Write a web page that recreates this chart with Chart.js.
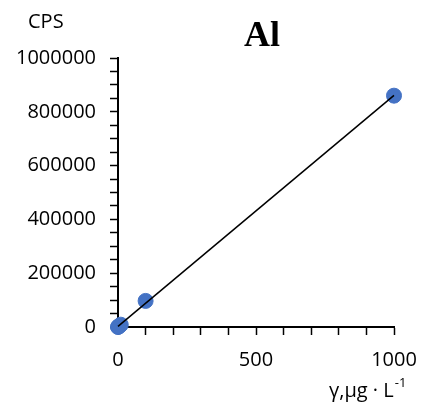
<!DOCTYPE html>
<html>
<head>
<meta charset="utf-8">
<script src="https://cdn.jsdelivr.net/npm/chart.js@4"></script>
<style>
  body { margin: 0; background: #fff; }
  #wrap { width: 425px; height: 410px; }
</style>
</head>
<body>
<div id="wrap"><canvas id="al"></canvas></div>
<script>
// concentration (µg/L) and counts per second
var conc = [0, 1, 5, 10, 100, 1000];
var cps = [0, 900, 4300, 8600, 97000, 860000];
var chartTitle = 'Al';
var yLabel = 'CPS';
var xLabel = 'γ,μg · L';
var xLabelSup = '-1';

// least squares line through the calibration points
function fitLine(xs, ys) {
  var n = xs.length, sx = 0, sy = 0, sxy = 0, sxx = 0;
  for (var i = 0; i < n; i++) {
    sx += xs[i]; sy += ys[i]; sxy += xs[i] * ys[i]; sxx += xs[i] * xs[i];
  }
  var slope = (n * sxy - sx * sy) / (n * sxx - sx * sx);
  var icpt = (sy - slope * sx) / n;
  return [{x: 0, y: icpt}, {x: 1000, y: icpt + slope * 1000}];
}

var pts = conc.map(function(c, i) { return {x: c, y: cps[i]}; });

var textPlugin = {
  id: 'texts',
  afterDraw: function(chart) {
    var ctx = chart.ctx;
    ctx.save();
    ctx.fillStyle = '#000';
    ctx.textBaseline = 'middle';
    ctx.font = 'bold 36px "Liberation Serif"';
    ctx.textAlign = 'center';
    ctx.fillText(chartTitle, 262, 37);
    ctx.font = '20px "Open Sans"';
    ctx.textAlign = 'left';
    ctx.fillText(yLabel, 28, 22);
    ctx.fillText(xLabel, 329, 391);
    var w = ctx.measureText(xLabel).width;
    ctx.font = '13px "Open Sans"';
    ctx.fillText(xLabelSup, 329 + w + 1, 383);
    ctx.restore();
  }
};

var tickFont = {family: 'Open Sans', size: 20};

new Chart('al', {
  type: 'scatter',
  data: {
    datasets: [
      {
        data: fitLine(conc, cps),
        showLine: true,
        borderColor: '#000',
        borderWidth: 1.5,
        pointRadius: 0,
        order: 0,
        clip: false
      },
      {
        data: pts,
        backgroundColor: '#4472C4',
        borderColor: '#4472C4',
        pointRadius: 7.5,
        order: 1,
        clip: false
      }
    ]
  },
  options: {
    responsive: true,
    maintainAspectRatio: false,
    animation: false,
    layout: {padding: {top: 58, right: 31, left: 0, bottom: 0}},
    plugins: {legend: {display: false}, tooltip: {enabled: false}},
    scales: {
      x: {
        type: 'linear',
        min: 0, max: 1000,
        afterFit: function(s) { s.height = 83; s.paddingLeft = 0; s.paddingRight = 0; },
        border: {color: '#000', width: 2},
        grid: {drawOnChartArea: false, tickLength: 8, tickColor: '#000', tickWidth: 1.5},
        ticks: {
          stepSize: 100, autoSkip: false, maxRotation: 0, padding: 13,
          color: '#000', font: tickFont,
          callback: function(v) { return v % 500 === 0 ? v : ''; }
        }
      },
      y: {
        type: 'linear',
        min: 0, max: 1000000,
        afterFit: function(s) { s.width = 118; s.paddingTop = 0; s.paddingBottom = 0; },
        border: {color: '#000', width: 2},
        grid: {drawOnChartArea: false, tickLength: 8, tickColor: '#000', tickWidth: 1.5},
        ticks: {
          stepSize: 50000, autoSkip: false, padding: 14,
          color: '#000', font: tickFont,
          callback: function(v) { return v % 200000 === 0 ? v : ''; }
        }
      }
    }
  },
  plugins: [textPlugin]
});
</script>
</body>
</html>
